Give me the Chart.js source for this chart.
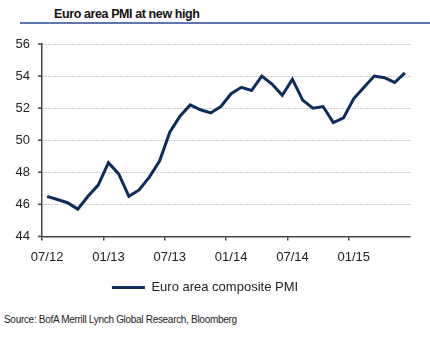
<!DOCTYPE html>
<html lang="en">
<head>
    <meta charset="UTF-8">
    <title>Euro area PMI at new high</title>
    <script src="https://cdn.jsdelivr.net/npm/chart.js"></script>
    <style>
        body {
            margin: 0;
            width: 430px;
            height: 337px;
            background: #fff;
            font-family: "Liberation Sans", Arial, sans-serif;
            position: relative;
            overflow: hidden;
        }

        .title {
            position: absolute;
            left: 54px;
            top: 7px;
            font-size: 12.5px;
            font-weight: bold;
            letter-spacing: -0.4px;
            color: #111;
        }

        .title-rule {
            position: absolute;
            left: 20px;
            top: 22px;
            width: 410px;
            height: 1.5px;
            background: #5a78ad;
        }

        .chart-box {
            position: absolute;
            left: 0;
            top: 0;
            width: 430px;
            height: 304px;
        }

        .source {
            position: absolute;
            left: 4px;
            top: 314px;
            font-size: 10px;
            color: #222;
            letter-spacing: -0.3px;
        }
    </style>
</head>
<body>
<div class="title">Euro area PMI at new high</div>
<div class="title-rule"></div>
<div class="chart-box"><canvas id="pmiChart"></canvas></div>
<div class="source">Source: BofA Merrill Lynch Global Research, Bloomberg</div>

<script>
    // monthly, 07/12 .. 06/15
    const months = [
        '07/12', '08/12', '09/12', '10/12', '11/12', '12/12',
        '01/13', '02/13', '03/13', '04/13', '05/13', '06/13',
        '07/13', '08/13', '09/13', '10/13', '11/13', '12/13',
        '01/14', '02/14', '03/14', '04/14', '05/14', '06/14',
        '07/14', '08/14', '09/14', '10/14', '11/14', '12/14',
        '01/15', '02/15', '03/15', '04/15', '05/15', '06/15'
    ];
    const compositePmi = [
        46.5, 46.3, 46.1, 45.7, 46.5, 47.2,
        48.6, 47.9, 46.5, 46.9, 47.7, 48.7,
        50.5, 51.5, 52.2, 51.9, 51.7, 52.1,
        52.9, 53.3, 53.1, 54.0, 53.5, 52.8,
        53.8, 52.5, 52.0, 52.1, 51.1, 51.4,
        52.6, 53.3, 54.0, 53.9, 53.6, 54.2
    ];
    const yTicks = [44, 46, 48, 50, 52, 54, 56];

    const navy = '#0c2d5c';
    const axisGrey = '#444';
    const fontFamily = '"Liberation Sans", Arial, sans-serif';

    // small outward tick marks on the y axis (grid dash would make them dotted)
    const yTickMarks = {
        id: 'yTickMarks',
        afterDraw(chart) {
            const y = chart.scales.y;
            const ctx = chart.ctx;
            ctx.save();
            ctx.strokeStyle = axisGrey;
            ctx.lineWidth = 1.5;
            yTicks.forEach(v => {
                const py = y.getPixelForValue(v);
                ctx.beginPath();
                ctx.moveTo(y.right - 4, py);
                ctx.lineTo(y.right, py);
                ctx.stroke();
            });
            ctx.restore();
        }
    };

    new Chart(document.getElementById('pmiChart').getContext('2d'), {
        type: 'line',
        data: {
            labels: months,
            datasets: [{
                label: 'Euro area composite PMI',
                data: compositePmi,
                borderColor: navy,
                backgroundColor: navy,
                borderWidth: 3,
                pointRadius: 0,
                pointStyle: 'line',
                tension: 0
            }]
        },
        options: {
            responsive: true,
            maintainAspectRatio: false,
            animation: false,
            layout: {
                padding: {top: 44, right: 20, left: 0, bottom: 0}
            },
            plugins: {
                legend: {
                    position: 'bottom',
                    labels: {
                        usePointStyle: true,
                        pointStyleWidth: 33,
                        padding: 7,
                        color: '#222',
                        font: {family: fontFamily, size: 13}
                    }
                },
                tooltip: {enabled: false}
            },
            scales: {
                x: {
                    offset: true,
                    grid: {
                        offset: true,
                        drawOnChartArea: false,
                        drawTicks: true,
                        tickLength: 4,
                        lineWidth: 1.5,
                        color: ctx => ctx.index % 6 === 0 ? axisGrey : 'rgba(0,0,0,0)'
                    },
                    border: {color: axisGrey, width: 1.5},
                    ticks: {
                        autoSkip: false,
                        maxRotation: 0,
                        padding: 9,
                        color: '#222',
                        font: {family: fontFamily, size: 13},
                        callback: function (val, i) {
                            return i % 6 === 0 ? months[i] : '';
                        }
                    }
                },
                y: {
                    min: 44,
                    max: 56,
                    afterFit: s => { s.width = 42; },
                    afterBuildTicks: s => { s.ticks = yTicks.map(v => ({value: v})); },
                    grid: {
                        drawTicks: false,
                        color: '#9a9a9a',
                        lineWidth: 1
                    },
                    border: {color: axisGrey, width: 1.5, dash: [1, 2]},
                    ticks: {
                        padding: 12,
                        color: '#222',
                        font: {family: fontFamily, size: 13}
                    }
                }
            }
        },
        plugins: [yTickMarks]
    });
</script>
</body>
</html>
